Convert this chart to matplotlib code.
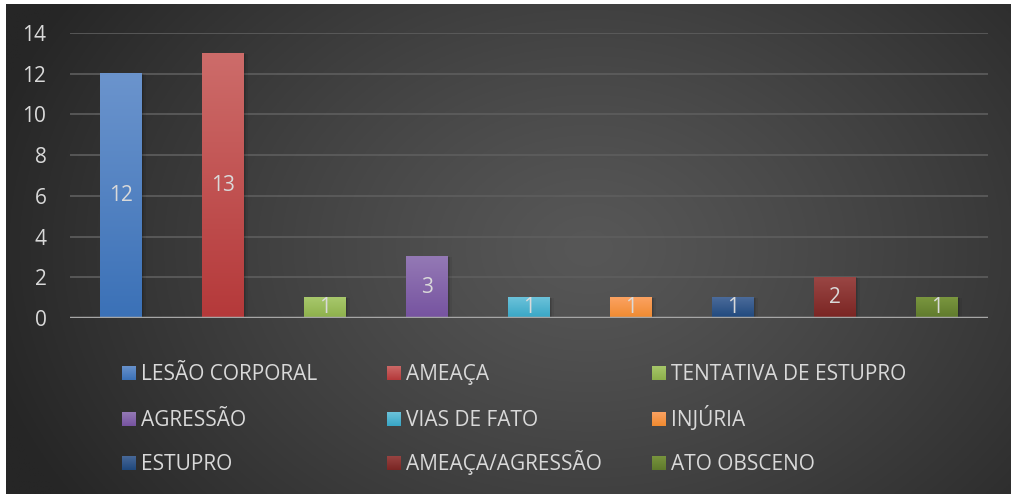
import numpy as np
import matplotlib
matplotlib.use("Agg")
import matplotlib.pyplot as plt
from matplotlib.patches import Rectangle
from matplotlib.colors import to_rgb

plt.rcParams['font.family'] = ['Open Sans', 'DejaVu Sans']

categories = ['LESÃO CORPORAL', 'AMEAÇA', 'TENTATIVA DE ESTUPRO', 'AGRESSÃO',
              'VIAS DE FATO', 'INJÚRIA', 'ESTUPRO', 'AMEAÇA/AGRESSÃO', 'ATO OBSCENO']
values = [12, 13, 1, 3, 1, 1, 1, 2, 1]
# top / bottom colour of each bar's gradient
tops = ['#6b94cd', '#cd6c6a', '#a8c86c', '#9479b5', '#6cc2da', '#fba262', '#4b6b9a', '#9a4644', '#7a963f']
bottoms = ['#3b71b7', '#b5393a', '#8db04b', '#7653a0', '#37a6c5', '#f08a2f', '#1f487d', '#7a2523', '#5f7a2c']
yticks = [0, 2, 4, 6, 8, 10, 12, 14]

W, H = 1011, 494
fig = plt.figure(figsize=(W / 100, H / 100), dpi=100, facecolor='white')

# dark radial background
bg = fig.add_axes([6 / W, 0, 1 - 6 / W, 1 - 4 / H])
bg.set_axis_off()
yy, xx = np.mgrid[0:1:300j, 0:1:600j]
d = np.sqrt(((xx - 0.58) / 0.62) ** 2 + ((yy - 0.5) / 0.95) ** 2)
d = np.clip(d, 0, 1)
inner, outer = np.array(to_rgb('#575757')), np.array(to_rgb('#262626'))
img = inner + (outer - inner) * d[..., None] ** 1.2
bg.imshow(img, aspect='auto', extent=[0, 1, 0, 1], origin='lower')
bg.set_xlim(0, 1)
bg.set_ylim(0, 1)

ax = fig.add_axes([70 / W, (H - 318) / H, 918 / W, 285 / H])
ax.patch.set_alpha(0)
for s in ax.spines.values():
    s.set_visible(False)

bw = 0.41
x = np.arange(len(values))
grad = np.linspace(0, 1, 100)[:, None]
for i, v in enumerate(values):
    # soft drop shadow
    for k, a in enumerate([0.10, 0.08, 0.06]):
        off = 0.02 + k * 0.02
        ax.add_patch(Rectangle((i - bw / 2 + off * 0.6, 0), bw, v - off * 0.4,
                               color='black', alpha=a, lw=0, zorder=2))
    c0, c1 = np.array(to_rgb(bottoms[i])), np.array(to_rgb(tops[i]))
    col = c0 + (c1 - c0) * grad[..., None]
    col = np.repeat(col, 2, axis=1)
    ax.imshow(col, aspect='auto', origin='lower', zorder=3,
              extent=[i - bw / 2, i + bw / 2, 0, v])
    ax.text(i, v / 2, str(v), ha='center', va='center', color='#d9d9d9',
            fontsize=15, zorder=4)

ax.set_xlim(-0.5, len(values) - 0.5)
ax.set_ylim(0, 14)
ax.set_yticks(yticks)
ax.set_xticks([])
ax.tick_params(axis='y', length=0, labelsize=15, labelcolor='#d9d9d9', pad=17)
ax.grid(axis='y', color='#5e5e5e', lw=1.2, zorder=1)
ax.set_axisbelow(True)
ax.axhline(0, color='#a6a6a6', lw=2.5, zorder=5)

# legend laid out in three rows
col_x = [129, 394, 659]
row_y = [373, 419, 463]
for i, name in enumerate(categories):
    r, c = divmod(i, 3)
    px, py = col_x[c], row_y[r]
    box = fig.add_axes([(px - 7) / W, (H - py - 7) / H, 14 / W, 14 / H])
    box.set_axis_off()
    c0, c1 = np.array(to_rgb(bottoms[i])), np.array(to_rgb(tops[i]))
    box.imshow(np.repeat((c0 + (c1 - c0) * grad[..., None]), 2, axis=1),
               aspect='auto', origin='lower', extent=[0, 1, 0, 1])
    fig.text((px + 12) / W, (H - py - 7) / H, name, ha='left', va='baseline',
             color='#d9d9d9', fontsize=15)

fig.savefig('out.png', dpi=100, facecolor='white')
